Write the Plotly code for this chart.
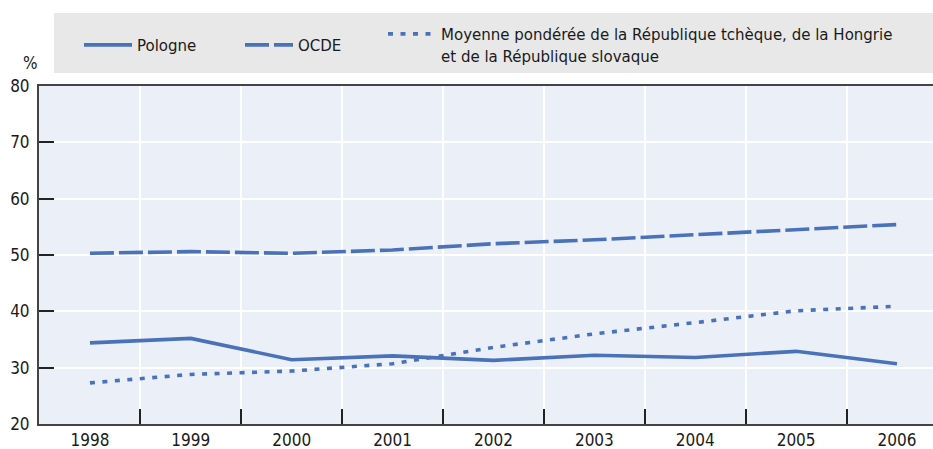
import plotly.graph_objects as go

years = ["1998", "1999", "2000", "2001", "2002", "2003", "2004", "2005", "2006"]
pologne = [34.4, 35.2, 31.4, 32.1, 31.3, 32.2, 31.8, 32.9, 30.7]
ocde = [50.3, 50.6, 50.3, 50.9, 52.0, 52.7, 53.6, 54.5, 55.4]
moyenne = [27.3, 28.8, 29.4, 30.7, 33.6, 36.0, 38.0, 40.1, 40.9]

names = ["Pologne", "OCDE",
         "Moyenne pondérée de la République tchèque, de la Hongrie<br>et de la République slovaque"]

FONT = "DejaVu Sans Condensed, Liberation Sans Narrow, Arial Narrow, sans-serif"
BLUE = "#4a72b8"
TXT = "#1a1a1a"
W, H = 933, 449

fig = go.Figure()
fig.add_trace(go.Scatter(x=years, y=pologne, name=names[0], mode="lines",
                         line=dict(color=BLUE, width=3.6), legend="legend"))
fig.add_trace(go.Scatter(x=years, y=ocde, name=names[1], mode="lines",
                         line=dict(color=BLUE, width=3.6, dash="24px,5px"), legend="legend2"))
fig.add_trace(go.Scatter(x=years, y=moyenne, name=names[2], mode="lines",
                         line=dict(color=BLUE, width=3.6, dash="5px,7.5px"), legend="legend3"))

legend_common = dict(xref="container", yref="container", yanchor="middle", y=1 - 45 / H,
                     bgcolor="rgba(0,0,0,0)", font=dict(family=FONT, size=16.7, color=TXT),
                     itemwidth=48, orientation="h", tracegroupgap=0)

# plot area geometry
L, R, T, B = 39, 0, 86, 25
ph = H - T - B

fig.update_layout(
    width=W, height=H,
    margin=dict(l=L, r=R, t=T, b=B, pad=0, autoexpand=False),
    paper_bgcolor="white",
    plot_bgcolor="#ebf0f8",
    font=dict(family=FONT, size=17, color=TXT),
    showlegend=True,
    legend=dict(legend_common, x=79 / W, valign="middle"),
    legend2=dict(legend_common, x=240 / W, valign="middle"),
    legend3=dict(legend_common, x=383 / W, valign="top"),
    xaxis=dict(type="category", range=[-0.505, 8.357], tickson="boundaries",
               ticks="inside", ticklen=15, tickwidth=1.5, tickcolor="#222",
               showgrid=True, gridcolor="white", gridwidth=2,
               showline=True, linecolor="#444", linewidth=2, mirror=True,
               tickfont=dict(family=FONT, size=17, color=TXT)),
    yaxis=dict(range=[20, 80], dtick=10, tick0=20,
               ticks="inside", ticklen=15, tickwidth=1.5, tickcolor="#222",
               showgrid=True, gridcolor="white", gridwidth=2, zeroline=False,
               showline=True, linecolor="#444", linewidth=2,
               ticklabelstandoff=4,
               tickfont=dict(family=FONT, size=17, color=TXT)),
    shapes=[dict(type="rect", xref="paper", yref="paper",
                 x0=(54 - L) / (W - L - R), x1=1.0,
                 y0=1 + (T - 73) / ph, y1=1 + (T - 13) / ph,
                 fillcolor="#e8e8e8", line=dict(width=0), layer="below")],
    annotations=[dict(text="%", xref="paper", yref="paper",
                      x=(30 - L) / (W - L - R), y=1 + (T - 63) / ph,
                      xanchor="center", yanchor="middle", showarrow=False,
                      font=dict(family=FONT, size=17, color=TXT))],
)

fig.write_html("out.html",
               config={"displayModeBar": False},
               post_script="document.body.style.margin='0';document.body.style.overflow='hidden';")
